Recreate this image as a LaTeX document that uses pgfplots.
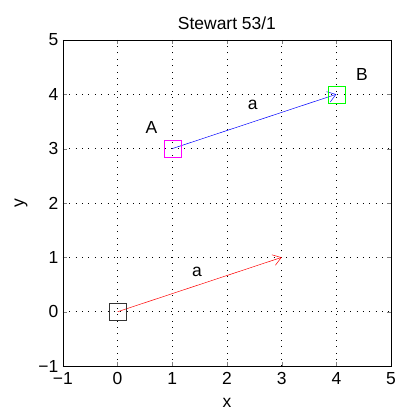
\documentclass[border=0pt]{standalone}
\usepackage{fontspec}
\setmainfont{Liberation Sans}
\usepackage{pgfplots}
\pgfplotsset{compat=1.18}
\usetikzlibrary{arrows.meta}
\definecolor{mgreen}{rgb}{0,1,0}
\definecolor{mmag}{rgb}{1,0,1}
\newcommand{\fs}{\fontsize{17.5}{20}\selectfont}
\begin{document}
\begin{tikzpicture}[font=\fs]
\begin{axis}[
  scale only axis, width=329pt, height=327pt,
  xmin=-1, xmax=5, ymin=-1, ymax=5,
  xtick={-1,0,1,2,3,4,5}, ytick={-1,0,1,2,3,4,5},
  xticklabels={−1,0,1,2,3,4,5}, yticklabels={−1,0,1,2,3,4,5},
  tick label style={font=\fs},
  xticklabel style={yshift=-3pt},
  yticklabel style={xshift=-1pt},
  tick align=inside, major tick length=4pt,
  grid=major, grid style={black, line width=0.6pt, dash pattern=on 0.8pt off 5.6pt},
  axis line style={line width=0.6pt},
  title={Stewart 53/1}, xlabel={x}, ylabel={y},
  every axis title/.style={at={(0.5,1)}, anchor=south, yshift=7pt, font=\fs},
  every axis x label/.style={at={(0.5,0)}, anchor=north, yshift=-29pt, font=\fs},
  every axis y label/.style={at={(0,0.5)}, anchor=south, rotate=90, yshift=32pt, font=\fs},
  clip=false,
]
\coordinate (bl) at (rel axis cs:0,0);
\coordinate (tr) at (rel axis cs:1,1);
\addplot[red, line width=0.5pt, -{Straight Barb[length=8pt,width=11pt]}] coordinates {(0,0) (3,1)};
\addplot[blue, line width=0.5pt, -{Straight Barb[length=8pt,width=11pt]}] coordinates {(1,3) (4,4)};
\addplot[only marks, mark=square, mark size=8.5pt, black!80] coordinates {(0,0)};
\addplot[only marks, mark=square, mark size=8.5pt, mmag] coordinates {(1,3)};
\addplot[only marks, mark=square, mark size=8.5pt, mgreen] coordinates {(4,4)};
\node[font=\fs] at (axis cs:1.45,0.74) {a};
\node[font=\fs] at (axis cs:2.47,3.81) {a};
\node[font=\fs] at (axis cs:0.62,3.39) {A};
\node[font=\fs] at (axis cs:4.47,4.36) {B};
\end{axis}
\pgfresetboundingbox
\path ([shift={(-63pt,-50pt)}]bl) rectangle ([shift={(6pt,40pt)}]tr);
\end{tikzpicture}
\end{document}
